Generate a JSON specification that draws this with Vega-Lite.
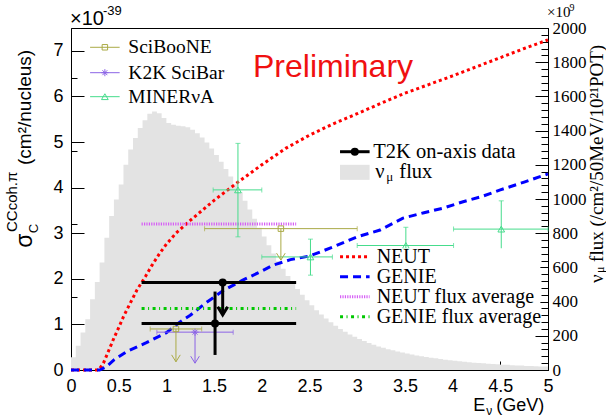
{
  "$schema": "https://vega.github.io/schema/vega-lite/v6.json",
  "width": 477,
  "height": 342,
  "padding": {"left": 71, "top": 28, "right": 58, "bottom": 48},
  "autosize": {"type": "none"},
  "background": "white",
  "config": {
    "view": {"stroke": "black", "strokeWidth": 1},
    "axis": {"domainColor": "black", "labelColor": "black", "domainWidth": 1, "title": null, "labelFlush": false, "labelOverlap": false, "labelBound": false, "ticks": true, "tickColor": "black", "tickWidth": 1, "grid": false}
  },
  "datasets": {
    "flux": [
      {"E": 0.00, "flux": 74}, {"E": 0.05, "flux": 142}, {"E": 0.10, "flux": 220}, {"E": 0.15, "flux": 297},
      {"E": 0.20, "flux": 414}, {"E": 0.25, "flux": 515}, {"E": 0.30, "flux": 628}, {"E": 0.35, "flux": 774},
      {"E": 0.40, "flux": 900}, {"E": 0.45, "flux": 997}, {"E": 0.50, "flux": 1085}, {"E": 0.55, "flux": 1201},
      {"E": 0.60, "flux": 1289}, {"E": 0.65, "flux": 1357}, {"E": 0.70, "flux": 1415}, {"E": 0.75, "flux": 1460},
      {"E": 0.80, "flux": 1499}, {"E": 0.85, "flux": 1512}, {"E": 0.90, "flux": 1502}, {"E": 0.95, "flux": 1473},
      {"E": 1.00, "flux": 1444}, {"E": 1.05, "flux": 1434}, {"E": 1.10, "flux": 1429}, {"E": 1.15, "flux": 1425},
      {"E": 1.20, "flux": 1420}, {"E": 1.25, "flux": 1405}, {"E": 1.30, "flux": 1385}, {"E": 1.35, "flux": 1360},
      {"E": 1.40, "flux": 1330}, {"E": 1.45, "flux": 1295}, {"E": 1.50, "flux": 1258}, {"E": 1.55, "flux": 1218},
      {"E": 1.60, "flux": 1176}, {"E": 1.65, "flux": 1132}, {"E": 1.70, "flux": 1086}, {"E": 1.75, "flux": 1040},
      {"E": 1.80, "flux": 990}, {"E": 1.85, "flux": 938}, {"E": 1.90, "flux": 885}, {"E": 1.95, "flux": 832},
      {"E": 2.00, "flux": 780}, {"E": 2.05, "flux": 730}, {"E": 2.10, "flux": 682}, {"E": 2.15, "flux": 636},
      {"E": 2.20, "flux": 592}, {"E": 2.25, "flux": 550}, {"E": 2.30, "flux": 511}, {"E": 2.35, "flux": 474},
      {"E": 2.40, "flux": 440}, {"E": 2.45, "flux": 408}, {"E": 2.50, "flux": 378}, {"E": 2.55, "flux": 350},
      {"E": 2.60, "flux": 325}, {"E": 2.65, "flux": 301}, {"E": 2.70, "flux": 279}, {"E": 2.75, "flux": 259},
      {"E": 2.80, "flux": 240}, {"E": 2.85, "flux": 223}, {"E": 2.90, "flux": 208}, {"E": 2.95, "flux": 194},
      {"E": 3.00, "flux": 181}, {"E": 3.05, "flux": 169}, {"E": 3.10, "flux": 158}, {"E": 3.15, "flux": 148},
      {"E": 3.20, "flux": 138}, {"E": 3.25, "flux": 130}, {"E": 3.30, "flux": 122}, {"E": 3.35, "flux": 115},
      {"E": 3.40, "flux": 108}, {"E": 3.45, "flux": 102}, {"E": 3.50, "flux": 96}, {"E": 3.55, "flux": 90},
      {"E": 3.60, "flux": 85}, {"E": 3.65, "flux": 80}, {"E": 3.70, "flux": 76}, {"E": 3.75, "flux": 72},
      {"E": 3.80, "flux": 68}, {"E": 3.85, "flux": 64}, {"E": 3.90, "flux": 60}, {"E": 3.95, "flux": 57},
      {"E": 4.00, "flux": 54}, {"E": 4.05, "flux": 51}, {"E": 4.10, "flux": 48}, {"E": 4.15, "flux": 46},
      {"E": 4.20, "flux": 43}, {"E": 4.25, "flux": 41}, {"E": 4.30, "flux": 39}, {"E": 4.35, "flux": 37},
      {"E": 4.40, "flux": 35}, {"E": 4.45, "flux": 33}, {"E": 4.50, "flux": 31}, {"E": 4.55, "flux": 30},
      {"E": 4.60, "flux": 28}, {"E": 4.65, "flux": 27}, {"E": 4.70, "flux": 26}, {"E": 4.75, "flux": 24},
      {"E": 4.80, "flux": 23}, {"E": 4.85, "flux": 22}, {"E": 4.90, "flux": 21}, {"E": 4.95, "flux": 20},
      {"E": 5.00, "flux": 20}
    ],
    "neut": [
      {"E": 0, "xsec": 0}, {"E": 0.29, "xsec": 0}, {"E": 0.34, "xsec": 0.15}, {"E": 0.4, "xsec": 0.45},
      {"E": 0.45, "xsec": 0.7}, {"E": 0.5, "xsec": 0.93}, {"E": 0.55, "xsec": 1.17}, {"E": 0.6, "xsec": 1.38},
      {"E": 0.69, "xsec": 1.75}, {"E": 0.78, "xsec": 2.05}, {"E": 0.85, "xsec": 2.3}, {"E": 0.93, "xsec": 2.56},
      {"E": 1.0, "xsec": 2.76}, {"E": 1.1, "xsec": 3.0}, {"E": 1.25, "xsec": 3.28}, {"E": 1.5, "xsec": 3.72},
      {"E": 1.75, "xsec": 4.12}, {"E": 2.0, "xsec": 4.5}, {"E": 2.25, "xsec": 4.86}, {"E": 2.5, "xsec": 5.15},
      {"E": 2.75, "xsec": 5.4}, {"E": 3.0, "xsec": 5.62}, {"E": 3.25, "xsec": 5.85}, {"E": 3.5, "xsec": 6.07},
      {"E": 3.75, "xsec": 6.26}, {"E": 4.0, "xsec": 6.45}, {"E": 4.25, "xsec": 6.65}, {"E": 4.5, "xsec": 6.85},
      {"E": 4.75, "xsec": 7.05}, {"E": 5.0, "xsec": 7.24}
    ],
    "genie": [
      {"E": 0, "xsec": 0}, {"E": 0.3, "xsec": 0}, {"E": 0.37, "xsec": 0.07}, {"E": 0.45, "xsec": 0.22},
      {"E": 0.58, "xsec": 0.4}, {"E": 0.79, "xsec": 0.6}, {"E": 1.0, "xsec": 0.82}, {"E": 1.14, "xsec": 1.05},
      {"E": 1.25, "xsec": 1.2}, {"E": 1.4, "xsec": 1.45}, {"E": 1.6, "xsec": 1.75}, {"E": 1.8, "xsec": 1.97},
      {"E": 2.0, "xsec": 2.17}, {"E": 2.12, "xsec": 2.3}, {"E": 2.3, "xsec": 2.42}, {"E": 2.5, "xsec": 2.5},
      {"E": 2.75, "xsec": 2.7}, {"E": 3.0, "xsec": 2.92}, {"E": 3.24, "xsec": 3.07}, {"E": 3.48, "xsec": 3.33},
      {"E": 3.7, "xsec": 3.45}, {"E": 3.9, "xsec": 3.55}, {"E": 4.11, "xsec": 3.69}, {"E": 4.3, "xsec": 3.8},
      {"E": 4.5, "xsec": 3.95}, {"E": 4.75, "xsec": 4.12}, {"E": 5.0, "xsec": 4.3}
    ],
    "averages": [
      {"model": "NEUT flux average", "Elo": 0.74, "Ehi": 2.36, "xsec": 3.2},
      {"model": "GENIE flux average", "Elo": 0.74, "Ehi": 2.36, "xsec": 1.35}
    ],
    "points": [
      {"exp": "T2K", "kind": "meas", "E": 1.51, "xsec": 1.02, "Elo": 0.74, "Ehi": 2.36, "lo": 0.33, "hi": 1.72},
      {"exp": "T2K", "kind": "limit", "E": 1.59, "xsec": 1.92, "Elo": 0.74, "Ehi": 2.36, "lo": 1.21, "hi": 1.92},
      {"exp": "SciBooNE", "kind": "limit", "E": 1.10, "xsec": 0.90, "Elo": 0.83, "Ehi": 1.37, "lo": 0.18, "hi": 0.90},
      {"exp": "SciBooNE", "kind": "limit", "E": 2.20, "xsec": 3.10, "Elo": 1.40, "Ehi": 3.00, "lo": 2.41, "hi": 3.10},
      {"exp": "K2K SciBar", "kind": "limit", "E": 1.30, "xsec": 0.83, "Elo": 0.90, "Ehi": 1.70, "lo": 0.15, "hi": 0.83},
      {"exp": "MINERvA", "kind": "meas", "E": 1.75, "xsec": 3.95, "Elo": 1.49, "Ehi": 2.00, "lo": 2.92, "hi": 4.97},
      {"exp": "MINERvA", "kind": "meas", "E": 2.51, "xsec": 2.48, "Elo": 2.00, "Ehi": 2.74, "lo": 2.08, "hi": 2.87},
      {"exp": "MINERvA", "kind": "meas", "E": 3.51, "xsec": 2.73, "Elo": 3.00, "Ehi": 4.01, "lo": 2.33, "hi": 3.13},
      {"exp": "MINERvA", "kind": "meas", "E": 4.51, "xsec": 3.09, "Elo": 4.01, "Ehi": 5.00, "lo": 2.63, "hi": 3.71}
    ]
  },
  "layer": [
    {
      "layer": [
        {
          "data": {"name": "flux"},
          "mark": {"type": "area", "interpolate": "step-after", "color": "#e3e3e3"},
          "encoding": {
            "x": {
              "field": "E", "type": "quantitative",
              "scale": {"domain": [0, 5], "nice": false, "zero": false},
              "axis": {
                "orient": "bottom",
                "values": [0, 0.5, 1, 1.5, 2, 2.5, 3, 3.5, 4, 4.5, 5],
                "tickSize": -9,
                "labelExpr": "format(datum.value, '.1~f')",
                "labelFont": "Liberation Sans", "labelFontSize": 18, "labelPadding": 16
              }
            },
            "y": {
              "field": "flux", "type": "quantitative",
              "scale": {"domain": [0, 2000], "nice": false, "zero": true},
              "axis": {
                "orient": "right",
                "values": [0, 200, 400, 600, 800, 1000, 1200, 1400, 1600, 1800, 2000],
                "tickSize": -13,
                "labelExpr": "format(datum.value, 'd')",
                "labelFont": "Liberation Serif", "labelFontSize": 17, "labelPadding": 17
              }
            }
          }
        },
        {
          "data": {"values": [{}]},
          "mark": {"type": "rect", "color": "#e3e3e3"},
          "encoding": {
            "x": {"datum": 2.82}, "x2": {"datum": 3.13},
            "y": {
              "datum": 1112, "type": "quantitative",
              "axis": {
                "orient": "right",
                "values": [0,40,80,120,160,200,240,280,320,360,400,440,480,520,560,600,640,680,720,760,800,840,880,920,960,1000,1040,1080,1120,1160,1200,1240,1280,1320,1360,1400,1440,1480,1520,1560,1600,1640,1680,1720,1760,1800,1840,1880,1920,1960,2000],
                "tickSize": -7, "labels": false, "domain": false
              }
            },
            "y2": {"datum": 1200}
          }
        }
      ],
      "resolve": {"axis": {"y": "independent"}}
    },
    {
      "layer": [
        {
          "data": {"name": "neut"},
          "mark": {"type": "line", "color": "#ff0000", "strokeWidth": 3, "strokeDash": [3, 3]},
          "encoding": {
            "x": {
              "field": "E", "type": "quantitative",
              "scale": {"domain": [0, 5], "nice": false, "zero": false},
              "axis": {
                "orient": "bottom",
                "values": [0,0.1,0.2,0.3,0.4,0.5,0.6,0.7,0.8,0.9,1,1.1,1.2,1.3,1.4,1.5,1.6,1.7,1.8,1.9,2,2.1,2.2,2.3,2.4,2.5,2.6,2.7,2.8,2.9,3,3.1,3.2,3.3,3.4,3.5,3.6,3.7,3.8,3.9,4,4.1,4.2,4.3,4.4,4.5,4.6,4.7,4.8,4.9,5],
                "tickSize": -4.5, "labels": false, "domain": false
              }
            },
            "y": {
              "field": "xsec", "type": "quantitative",
              "scale": {"domain": [0, 7.5], "nice": false, "zero": true},
              "axis": {
                "orient": "left",
                "values": [0, 1, 2, 3, 4, 5, 6, 7],
                "tickSize": -13,
                "labelExpr": "format(datum.value, 'd')",
                "labelFont": "Liberation Sans", "labelFontSize": 18, "labelPadding": 21
              }
            }
          }
        },
        {
          "layer": [
            {
              "data": {"name": "genie"},
              "mark": {"type": "line", "color": "#0000ff", "strokeWidth": 3, "strokeDash": [8, 5]},
              "encoding": {
                "x": {"field": "E", "type": "quantitative"},
                "y": {
                  "field": "xsec", "type": "quantitative",
                  "axis": {
                    "orient": "left",
                    "values": [0,0.2,0.4,0.6,0.8,1,1.2,1.4,1.6,1.8,2,2.2,2.4,2.6,2.8,3,3.2,3.4,3.6,3.8,4,4.2,4.4,4.6,4.8,5,5.2,5.4,5.6,5.8,6,6.2,6.4,6.6,6.8,7,7.2,7.4],
                    "tickSize": -6, "labels": false, "domain": false
                  }
                }
              }
            },
            {
              "data": {"name": "averages"},
              "transform": [{"filter": "datum.model === 'NEUT flux average'"}],
              "mark": {"type": "rule", "strokeWidth": 3, "color": "#d65ef5", "strokeDash": [1.2, 1.2]},
              "encoding": {
                "x": {"field": "Elo", "type": "quantitative"},
                "x2": {"field": "Ehi"},
                "y": {"field": "xsec", "type": "quantitative"}
              }
            },
            {
              "data": {"name": "averages"},
              "transform": [{"filter": "datum.model === 'GENIE flux average'"}],
              "mark": {"type": "rule", "strokeWidth": 3, "color": "#00c800", "strokeDash": [3, 3.5, 1, 3.5]},
              "encoding": {
                "x": {"field": "Elo", "type": "quantitative"},
                "x2": {"field": "Ehi"},
                "y": {"field": "xsec", "type": "quantitative"}
              }
            },
            {
              "data": {"name": "points"},
              "mark": {"type": "rule"},
              "encoding": {
                "x": {"field": "Elo", "type": "quantitative"},
                "x2": {"field": "Ehi"},
                "y": {"field": "xsec", "type": "quantitative"},
                "color": {"field": "exp", "type": "nominal", "scale": {"domain": ["T2K", "SciBooNE", "K2K SciBar", "MINERvA"], "range": ["#000000", "#aaaa46", "#8c64e6", "#46dc8c"]}, "legend": null},
                "strokeWidth": {"condition": {"test": "datum.exp === 'T2K'", "value": 3}, "value": 1}
              }
            },
            {
              "data": {"name": "points"},
              "mark": {"type": "rule"},
              "encoding": {
                "x": {"field": "E", "type": "quantitative"},
                "y": {"field": "lo", "type": "quantitative"},
                "y2": {"field": "hi"},
                "color": {"field": "exp", "type": "nominal", "legend": null},
                "strokeWidth": {"condition": {"test": "datum.exp === 'T2K'", "value": 3}, "value": 1}
              }
            },
            {
              "data": {"name": "points"},
              "transform": [{"filter": "datum.exp !== 'T2K'"}, {"fold": ["Elo", "Ehi"], "as": ["end", "Eend"]}],
              "mark": {"type": "tick", "orient": "vertical", "size": 5, "thickness": 1},
              "encoding": {
                "x": {"field": "Eend", "type": "quantitative"},
                "y": {"field": "xsec", "type": "quantitative"},
                "color": {"field": "exp", "type": "nominal", "legend": null}
              }
            },
            {
              "data": {"name": "points"},
              "transform": [{"filter": "datum.exp === 'MINERvA'"}, {"fold": ["lo", "hi"], "as": ["end", "yend"]}],
              "mark": {"type": "tick", "orient": "horizontal", "size": 5, "thickness": 1},
              "encoding": {
                "x": {"field": "E", "type": "quantitative"},
                "y": {"field": "yend", "type": "quantitative"},
                "color": {"field": "exp", "type": "nominal", "legend": null}
              }
            },
            {
              "data": {"name": "points"},
              "transform": [{"filter": "datum.kind === 'limit' && datum.exp === 'T2K'"}],
              "mark": {"type": "point", "shape": "M-1,-1.6L0,0L1,-1.6", "size": 100, "strokeWidth": 3, "filled": false, "opacity": 1},
              "encoding": {
                "x": {"field": "E", "type": "quantitative"},
                "y": {"field": "lo", "type": "quantitative"},
                "color": {"field": "exp", "type": "nominal", "legend": null}
              }
            },
            {
              "data": {"name": "points"},
              "transform": [{"filter": "datum.kind === 'limit' && datum.exp !== 'T2K'"}],
              "mark": {"type": "point", "shape": "M-1,-1.6L0,0L1,-1.6", "size": 75, "strokeWidth": 1, "filled": false, "opacity": 1},
              "encoding": {
                "x": {"field": "E", "type": "quantitative"},
                "y": {"field": "lo", "type": "quantitative"},
                "color": {"field": "exp", "type": "nominal", "legend": null}
              }
            },
            {
              "data": {"name": "points"},
              "transform": [{"filter": "datum.exp === 'T2K'"}],
              "mark": {"type": "point", "shape": "circle", "size": 65, "filled": true, "opacity": 1},
              "encoding": {
                "x": {"field": "E", "type": "quantitative"},
                "y": {"field": "xsec", "type": "quantitative"},
                "color": {"field": "exp", "type": "nominal", "legend": null}
              }
            },
            {
              "data": {"name": "points"},
              "transform": [{"filter": "datum.exp === 'SciBooNE'"}],
              "mark": {"type": "point", "shape": "square", "size": 30, "filled": false, "strokeWidth": 1, "opacity": 1},
              "encoding": {
                "x": {"field": "E", "type": "quantitative"},
                "y": {"field": "xsec", "type": "quantitative"},
                "color": {"field": "exp", "type": "nominal", "legend": null}
              }
            },
            {
              "data": {"name": "points"},
              "transform": [{"filter": "datum.exp === 'K2K SciBar'"}],
              "mark": {"type": "point", "shape": "M-1,0H1M0,-1V1M-0.7,-0.7L0.7,0.7M-0.7,0.7L0.7,-0.7", "size": 50, "filled": false, "strokeWidth": 1, "opacity": 1},
              "encoding": {
                "x": {"field": "E", "type": "quantitative"},
                "y": {"field": "xsec", "type": "quantitative"},
                "color": {"field": "exp", "type": "nominal", "legend": null}
              }
            },
            {
              "data": {"name": "points"},
              "transform": [{"filter": "datum.exp === 'MINERvA'"}],
              "mark": {"type": "point", "shape": "triangle-up", "size": 45, "filled": false, "strokeWidth": 1, "opacity": 1},
              "encoding": {
                "x": {"field": "E", "type": "quantitative"},
                "y": {"field": "xsec", "type": "quantitative"},
                "color": {"field": "exp", "type": "nominal", "legend": null}
              }
            },

            {"data": {"values": [{}]}, "mark": {"type": "rect", "color": "white"},
             "encoding": {"x": {"datum": 2.78}, "x2": {"datum": 4.92}, "y": {"datum": 1.0}, "y2": {"datum": 2.67}}},

            {"data": {"values": [{}]}, "mark": {"type": "rule", "color": "#aaaa46", "strokeWidth": 1},
             "encoding": {"x": {"datum": 0.2}, "x2": {"datum": 0.51}, "y": {"datum": 7.077}}},
            {"data": {"values": [{}]}, "mark": {"type": "point", "shape": "square", "size": 30, "filled": false, "color": "#aaaa46", "strokeWidth": 1, "opacity": 1},
             "encoding": {"x": {"datum": 0.355}, "y": {"datum": 7.077}}},
            {"data": {"values": [{}]}, "mark": {"type": "text", "text": "SciBooNE", "font": "Liberation Serif", "fontSize": 19.5, "align": "left", "baseline": "middle", "color": "black"},
             "encoding": {"x": {"datum": 0.601}, "y": {"datum": 7.077}}},
            {"data": {"values": [{}]}, "mark": {"type": "rule", "color": "#8c64e6", "strokeWidth": 1},
             "encoding": {"x": {"datum": 0.2}, "x2": {"datum": 0.51}, "y": {"datum": 6.52}}},
            {"data": {"values": [{}]}, "mark": {"type": "point", "shape": "M-1,0H1M0,-1V1M-0.7,-0.7L0.7,0.7M-0.7,0.7L0.7,-0.7", "size": 50, "filled": false, "color": "#8c64e6", "strokeWidth": 1, "opacity": 1},
             "encoding": {"x": {"datum": 0.355}, "y": {"datum": 6.52}}},
            {"data": {"values": [{}]}, "mark": {"type": "text", "text": "K2K SciBar", "font": "Liberation Serif", "fontSize": 19.5, "align": "left", "baseline": "middle", "color": "black"},
             "encoding": {"x": {"datum": 0.601}, "y": {"datum": 6.52}}},
            {"data": {"values": [{}]}, "mark": {"type": "rule", "color": "#46dc8c", "strokeWidth": 1},
             "encoding": {"x": {"datum": 0.2}, "x2": {"datum": 0.51}, "y": {"datum": 5.994}}},
            {"data": {"values": [{}]}, "mark": {"type": "point", "shape": "triangle-up", "size": 45, "filled": false, "color": "#46dc8c", "strokeWidth": 1, "opacity": 1},
             "encoding": {"x": {"datum": 0.355}, "y": {"datum": 5.994}}},
            {"data": {"values": [{}]}, "mark": {"type": "text", "text": "MINERνA", "font": "Liberation Serif", "fontSize": 19.5, "align": "left", "baseline": "middle", "color": "black"},
             "encoding": {"x": {"datum": 0.601}, "y": {"datum": 5.994}}},

            {"data": {"values": [{}]}, "mark": {"type": "rule", "color": "black", "strokeWidth": 3},
             "encoding": {"x": {"datum": 2.82}, "x2": {"datum": 3.13}, "y": {"datum": 4.787}}},
            {"data": {"values": [{}]}, "mark": {"type": "point", "shape": "circle", "size": 65, "filled": true, "color": "black", "opacity": 1},
             "encoding": {"x": {"datum": 2.975}, "y": {"datum": 4.787}}},
            {"data": {"values": [{}]}, "mark": {"type": "text", "text": "T2K on-axis data", "font": "Liberation Serif", "fontSize": 20.5, "align": "left", "baseline": "middle", "color": "black"},
             "encoding": {"x": {"datum": 3.169}, "y": {"datum": 4.787}}},
            {"data": {"values": [{}]}, "mark": {"type": "text", "text": "ν", "font": "Liberation Serif", "fontSize": 20.5, "align": "left", "baseline": "middle", "color": "black", "dx": 2},
             "encoding": {"x": {"datum": 3.169}, "y": {"datum": 4.349}}},
            {"data": {"values": [{}]}, "mark": {"type": "text", "text": "μ", "font": "Liberation Serif", "fontSize": 13, "align": "left", "baseline": "middle", "color": "black", "dx": 13, "dy": 5},
             "encoding": {"x": {"datum": 3.169}, "y": {"datum": 4.349}}},
            {"data": {"values": [{}]}, "mark": {"type": "text", "text": "flux", "font": "Liberation Serif", "fontSize": 20.5, "align": "left", "baseline": "middle", "color": "black", "dx": 26},
             "encoding": {"x": {"datum": 3.169}, "y": {"datum": 4.349}}},

            {"data": {"values": [{}]}, "mark": {"type": "rule", "color": "#ff0000", "strokeWidth": 3, "strokeDash": [3, 3]},
             "encoding": {"x": {"datum": 2.82}, "x2": {"datum": 3.13}, "y": {"datum": 2.485}}},
            {"data": {"values": [{}]}, "mark": {"type": "text", "text": "NEUT", "font": "Liberation Serif", "fontSize": 20, "align": "left", "baseline": "middle", "color": "black"},
             "encoding": {"x": {"datum": 3.204}, "y": {"datum": 2.485}}},
            {"data": {"values": [{}]}, "mark": {"type": "rule", "color": "#0000ff", "strokeWidth": 3, "strokeDash": [8, 5]},
             "encoding": {"x": {"datum": 2.82}, "x2": {"datum": 3.13}, "y": {"datum": 2.046}}},
            {"data": {"values": [{}]}, "mark": {"type": "text", "text": "GENIE", "font": "Liberation Serif", "fontSize": 20, "align": "left", "baseline": "middle", "color": "black"},
             "encoding": {"x": {"datum": 3.204}, "y": {"datum": 2.046}}},
            {"data": {"values": [{}]}, "mark": {"type": "rule", "color": "#d65ef5", "strokeWidth": 3, "strokeDash": [1.2, 1.2]},
             "encoding": {"x": {"datum": 2.82}, "x2": {"datum": 3.13}, "y": {"datum": 1.608}}},
            {"data": {"values": [{}]}, "mark": {"type": "text", "text": "NEUT flux average", "font": "Liberation Serif", "fontSize": 20, "align": "left", "baseline": "middle", "color": "black"},
             "encoding": {"x": {"datum": 3.204}, "y": {"datum": 1.608}}},
            {"data": {"values": [{}]}, "mark": {"type": "rule", "color": "#00c800", "strokeWidth": 3, "strokeDash": [3, 3.5, 1, 3.5]},
             "encoding": {"x": {"datum": 2.82}, "x2": {"datum": 3.13}, "y": {"datum": 1.169}}},
            {"data": {"values": [{}]}, "mark": {"type": "text", "text": "GENIE flux average", "font": "Liberation Serif", "fontSize": 20, "align": "left", "baseline": "middle", "color": "black"},
             "encoding": {"x": {"datum": 3.204}, "y": {"datum": 1.169}}},

            {"data": {"values": [{}]}, "mark": {"type": "text", "text": "Preliminary", "font": "Liberation Sans", "fontSize": 32, "align": "left", "baseline": "alphabetic", "color": "#f01010"},
             "encoding": {"x": {"datum": 1.908}, "y": {"datum": 6.43}}},

            {"data": {"values": [{}]}, "mark": {"type": "text", "text": "×10", "font": "Liberation Sans", "fontSize": 20, "align": "left", "baseline": "alphabetic", "color": "black"},
             "encoding": {"x": {"datum": -0.01}, "y": {"datum": 7.566}}},
            {"data": {"values": [{}]}, "mark": {"type": "text", "text": "-39", "font": "Liberation Sans", "fontSize": 13, "align": "left", "baseline": "alphabetic", "color": "black"},
             "encoding": {"x": {"datum": 0.335}, "y": {"datum": 7.785}}},
            {"data": {"values": [{}]}, "mark": {"type": "text", "text": "×10", "font": "Liberation Serif", "fontSize": 15, "align": "left", "baseline": "alphabetic", "color": "black"},
             "encoding": {"x": {"datum": 4.99}, "y": {"datum": 7.74}}},
            {"data": {"values": [{}]}, "mark": {"type": "text", "text": "9", "font": "Liberation Serif", "fontSize": 10, "align": "left", "baseline": "alphabetic", "color": "black"},
             "encoding": {"x": {"datum": 5.225}, "y": {"datum": 7.88}}},

            {"data": {"values": [{}]}, "mark": {"type": "text", "text": "σ", "font": "Liberation Sans", "fontSize": 23, "angle": 270, "align": "left", "baseline": "middle", "color": "black"},
             "encoding": {"x": {"datum": -0.48}, "y": {"datum": 2.68}}},
            {"data": {"values": [{}]}, "mark": {"type": "text", "text": "C", "font": "Liberation Sans", "fontSize": 13, "angle": 270, "align": "left", "baseline": "middle", "color": "black"},
             "encoding": {"x": {"datum": -0.388}, "y": {"datum": 3.0}}},
            {"data": {"values": [{}]}, "mark": {"type": "text", "text": "CCcoh.π", "font": "Liberation Sans", "fontSize": 15, "angle": 270, "align": "left", "baseline": "middle", "color": "black"},
             "encoding": {"x": {"datum": -0.618}, "y": {"datum": 3.026}}},
            {"data": {"values": [{}]}, "mark": {"type": "text", "text": "(cm²/nucleus)", "font": "Liberation Sans", "fontSize": 19, "angle": 270, "align": "left", "baseline": "middle", "color": "black"},
             "encoding": {"x": {"datum": -0.48}, "y": {"datum": 4.496}}},

            {"data": {"values": [{}]}, "mark": {"type": "text", "text": "ν", "font": "Liberation Serif", "fontSize": 19, "angle": 270, "align": "left", "baseline": "middle", "color": "black"},
             "encoding": {"x": {"datum": 5.514}, "y": {"datum": 1.908}}},
            {"data": {"values": [{}]}, "mark": {"type": "text", "text": "μ", "font": "Liberation Serif", "fontSize": 12, "angle": 270, "align": "left", "baseline": "middle", "color": "black"},
             "encoding": {"x": {"datum": 5.54}, "y": {"datum": 2.127}}},
            {"data": {"values": [{}]}, "mark": {"type": "text", "text": "flux (/cm²/50MeV/10²¹POT)", "font": "Liberation Serif", "fontSize": 19, "angle": 270, "align": "left", "baseline": "middle", "color": "black"},
             "encoding": {"x": {"datum": 5.514}, "y": {"datum": 2.37}}},

            {"data": {"values": [{}]}, "mark": {"type": "text", "text": "(GeV)", "font": "Liberation Sans", "fontSize": 18, "align": "right", "baseline": "alphabetic", "color": "black"},
             "encoding": {"x": {"datum": 4.96}, "y": {"datum": -0.899}}},
            {"data": {"values": [{}]}, "mark": {"type": "text", "text": "ν", "font": "Liberation Sans", "fontSize": 12, "align": "right", "baseline": "alphabetic", "color": "black", "dx": -52, "dy": 4},
             "encoding": {"x": {"datum": 4.96}, "y": {"datum": -0.899}}},
            {"data": {"values": [{}]}, "mark": {"type": "text", "text": "E", "font": "Liberation Sans", "fontSize": 18, "align": "right", "baseline": "alphabetic", "color": "black", "dx": -59},
             "encoding": {"x": {"datum": 4.96}, "y": {"datum": -0.899}}}
          ]
        }
      ],
      "resolve": {"axis": {"y": "independent"}}
    }
  ],
  "resolve": {"scale": {"y": "independent"}, "axis": {"x": "independent", "y": "independent"}}
}
